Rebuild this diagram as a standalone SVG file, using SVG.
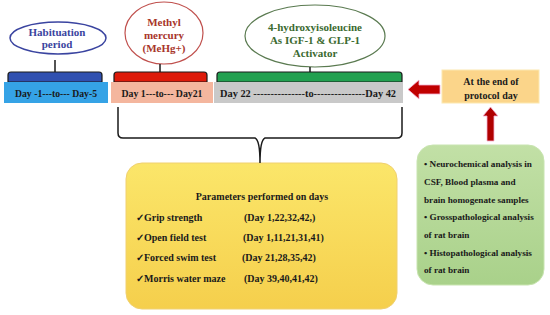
<svg xmlns="http://www.w3.org/2000/svg" width="550" height="315" viewBox="0 0 550 315">
<defs>
<style>
text{font-family:"Liberation Serif","Times New Roman",serif;font-weight:bold;fill:#1a1a1a}
.c{text-anchor:middle}
.lbl{font-size:11px}
.bx{font-size:10.5px}
.p{font-size:10px}
.g{font-size:9.2px}
.brk{stroke:#1a1a1a;stroke-width:1.2}
.stem{stroke:#1a1a1a;stroke-width:1.5;fill:none}
</style>
<linearGradient id="yg" x1="0" y1="0" x2="0" y2="1">
<stop offset="0" stop-color="#fbe66a"/><stop offset="1" stop-color="#f5cf4c"/>
</linearGradient>
<linearGradient id="gg" x1="0" y1="0" x2="0" y2="1">
<stop offset="0" stop-color="#c2e0a6"/><stop offset="1" stop-color="#a9d18a"/>
</linearGradient>
</defs>
<rect width="550" height="315" fill="#ffffff"/>

<g id="habituation">
<ellipse cx="58" cy="38" rx="48" ry="16" fill="#fff" stroke="#3a44a0" stroke-width="1.5"/>
<text class="c lbl" x="57" y="36" style="fill:#3a44a0">Habituation</text>
<text class="c lbl" x="57" y="48" style="fill:#3a44a0">period</text>
<line class="stem" x1="55" y1="60" x2="55" y2="72"/>
<path class="brk" d="M8,82 V75 Q8,72 11,72 H99 Q102,72 102,75 V82 Z" fill="#3050b0"/>
<rect x="4" y="82" width="104" height="21" fill="#35a3e6"/>
<text class="c bx" x="56" y="97" textLength="82" lengthAdjust="spacingAndGlyphs">Day -1---to--- Day-5</text>
</g>

<g id="mehg">
<ellipse cx="164" cy="33" rx="39" ry="31" fill="#fff" stroke="#c0504d" stroke-width="1.2"/>
<text class="c lbl" x="164" y="26" style="fill:#a8352b">Methyl</text>
<text class="c lbl" x="164" y="39" style="fill:#a8352b">mercury</text>
<text class="c lbl" x="164" y="52" style="fill:#a8352b">(MeHg+)</text>
<line class="stem" x1="160" y1="64" x2="160" y2="72"/>
<path class="brk" d="M114,82 V75 Q114,72 117,72 H204 Q207,72 207,75 V82 Z" fill="#dd1a0a"/>
<rect x="111" y="82" width="102" height="21" fill="#f4b69e"/>
<text class="c bx" x="162" y="97" textLength="81" lengthAdjust="spacingAndGlyphs">Day 1---to--- Day21</text>
</g>

<g id="hil">
<ellipse cx="315" cy="36" rx="70" ry="31" fill="#fff" stroke="#5a7a50" stroke-width="1.2"/>
<text class="c lbl" x="315" y="31" style="fill:#3b6a30">4-hydroxyisoleucine</text>
<text class="c lbl" x="315" y="44" style="fill:#3b6a30">As IGF-1 &amp; GLP-1</text>
<text class="c lbl" x="315" y="57" style="fill:#3b6a30">Activator</text>
<line class="stem" x1="310" y1="67" x2="310" y2="72"/>
<path class="brk" d="M217,82 V75 Q217,72 220,72 H399 Q402,72 402,75 V82 Z" fill="#22a050"/>
<rect x="214" y="82" width="189" height="21" fill="#c9c9c9"/>
<text class="bx" x="220" y="97" textLength="176" lengthAdjust="spacingAndGlyphs">Day 22 ---------------to---------------Day 42</text>
</g>

<g id="end">
<rect x="442" y="70" width="97" height="33" fill="#fbd58a" stroke="#fce8b0" stroke-width="1"/>
<text class="c p" x="491" y="85">At the end of</text>
<text class="c p" x="491" y="99">protocol  day</text>
</g>

<g id="params">
<rect x="126" y="163" width="271" height="146" rx="16" fill="url(#yg)" stroke="#f0d070" stroke-width="1"/>
<text class="c p" x="262" y="200">Parameters performed on days</text>
<text class="p" x="136" y="221">✓Grip strength</text>
<text class="p" x="244" y="221">(Day 1,22,32,42,)</text>
<text class="p" x="136" y="241">✓Open field test</text>
<text class="p" x="243" y="241">(Day 1,11,21,31,41)</text>
<text class="p" x="136" y="261">✓Forced swim test</text>
<text class="p" x="242" y="261">(Day 21,28,35,42)</text>
<text class="p" x="136" y="282">✓Morris water maze</text>
<text class="p" x="244" y="282">(Day 39,40,41,42)</text>
</g>

<g id="analysis">
<rect x="417" y="145" width="127" height="140" rx="16" fill="url(#gg)" stroke="#c8e4b0" stroke-width="1"/>
<text class="g" x="424" y="167">• Neurochemical analysis in</text>
<text class="g" x="424" y="185">CSF, Blood plasma and</text>
<text class="g" x="424" y="203">brain homogenate samples</text>
<text class="g" x="424" y="220">• Grosspathological analysis</text>
<text class="g" x="424" y="238">of rat brain</text>
<text class="g" x="424" y="256">• Histopathological analysis</text>
<text class="g" x="424" y="273">of rat brain</text>
</g>

<g id="connectors">
<path d="M118,107 V133 Q118,138 123,138 H255 Q260,140 260,163 Q260,140 265,138 H397 Q402,138 402,133 V107" fill="none" stroke="#1a1a1a" stroke-width="1.5"/>
<polygon points="440,85 419,85 419,80 408,89.5 419,99 419,94 440,94" fill="#c00000" stroke="#f4b0d0" stroke-width="0.8"/>
<polygon points="487,141 487,116 483,116 490.5,107 498,116 494,116 494,141" fill="#b00000" stroke="#f4b0d0" stroke-width="0.8"/>
</g>
</svg>
